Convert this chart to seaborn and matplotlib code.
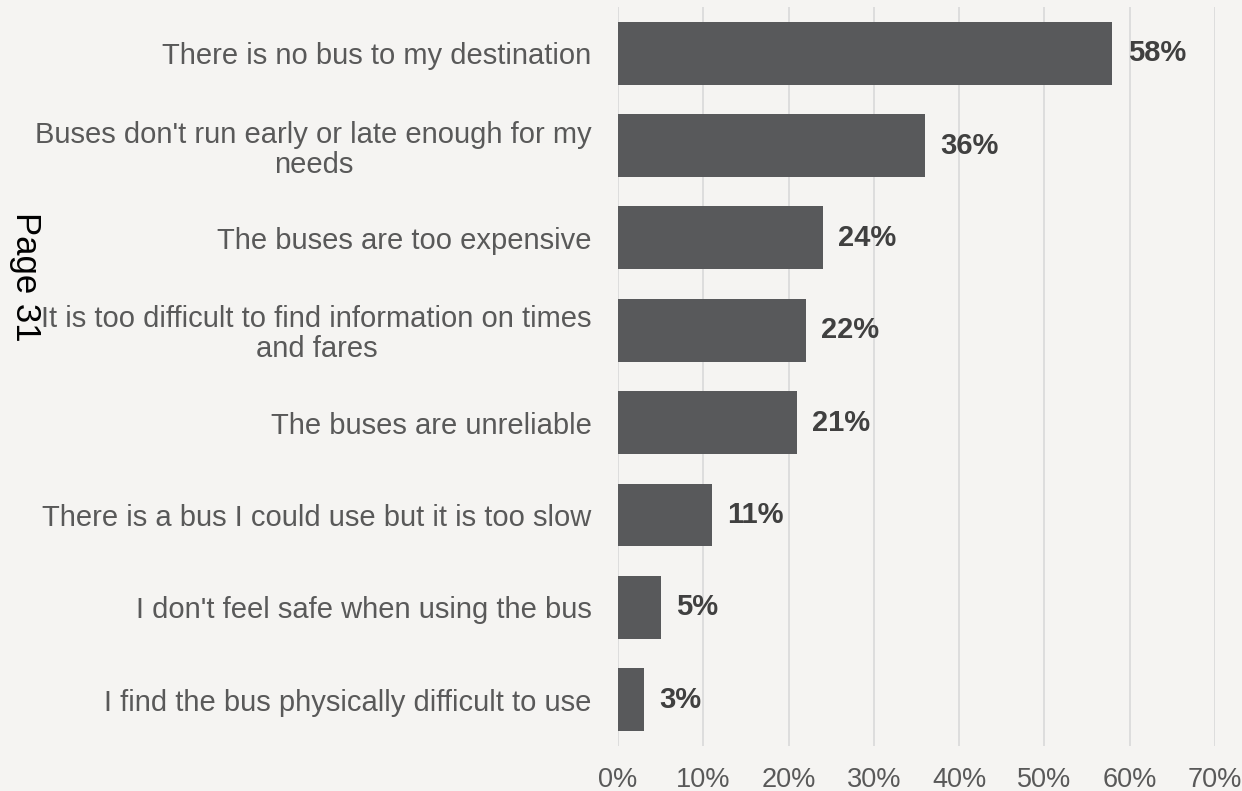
import matplotlib
matplotlib.use("Agg")
import matplotlib.pyplot as plt
import seaborn as sns
import pandas as pd

reasons = [
    "There is no bus to my destination",
    "Buses don't run early or late enough for my\nneeds",
    "The buses are too expensive",
    "It is too difficult to find information on times\nand fares",
    "The buses are unreliable",
    "There is a bus I could use but it is too slow",
    "I don't feel safe when using the bus",
    "I find the bus physically difficult to use",
]
shares = [58, 36, 24, 22, 21, 11, 5, 3]
tick_values = [0, 10, 20, 30, 40, 50, 60, 70]
tick_labels = ["0%", "10%", "20%", "30%", "40%", "50%", "60%", "70%"]

bg = "#F5F4F2"
bar_color = "#58595B"

sns.set_theme(style="white")
plt.rcParams["font.family"] = ["Liberation Sans", "DejaVu Sans"]

df = pd.DataFrame({"reason": reasons, "share": shares})

fig = plt.figure(figsize=(12.42, 7.91), dpi=100, facecolor=bg)
ax = fig.add_axes([0.4976, 0.0569, 0.4805, 0.9343])
ax.set_facecolor(bg)

sns.barplot(data=df, x="share", y="reason", color=bar_color, width=0.68,
            saturation=1, ax=ax, zorder=3, edgecolor="none")

ax.set_xlim(0, 70)
ax.set_xticks(tick_values)
ax.set_xticklabels(tick_labels)
ax.xaxis.grid(True, color="#D9D9D9", linewidth=1.2, zorder=0)
ax.yaxis.grid(False)
for s in ax.spines.values():
    s.set_visible(False)

ax.set_xlabel("")
ax.set_ylabel("")
ax.tick_params(axis="x", length=0, pad=15, labelsize=19.5, labelcolor="#595959")
ax.tick_params(axis="y", length=0, pad=19, labelsize=21, labelcolor="#595959")
for lbl in ax.get_yticklabels():
    lbl.set_multialignment("center")
    lbl.set_linespacing(1.1)

for i, v in enumerate(shares):
    ax.annotate(f"{v:.0f}%", xy=(v, i), xytext=(11, 0), textcoords="offset points",
                ha="left", va="center", fontsize=21, fontweight="bold",
                color="#404040", zorder=4)

fig.text(25 / 1242, 1 - 277 / 791, "Page 31", rotation=-90, ha="center", va="center",
         fontsize=25, color="black")

fig.savefig("out.png", dpi=100, facecolor=bg)
